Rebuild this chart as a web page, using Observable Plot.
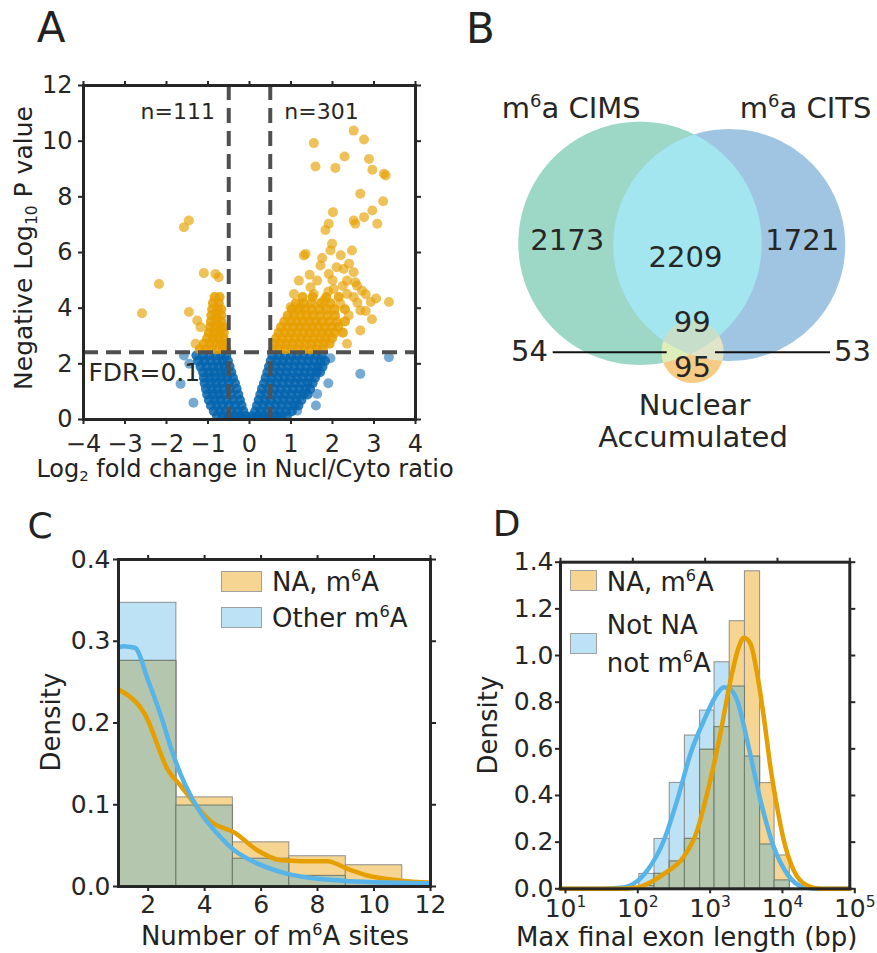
<!DOCTYPE html>
<html>
<head>
<meta charset="utf-8">
<script src="https://cdn.jsdelivr.net/npm/d3@7"></script>
<script src="https://cdn.jsdelivr.net/npm/@observablehq/plot@0.6"></script>
<style>
  html,body{margin:0;padding:0;background:#fff;}
  #fig{position:relative;width:877px;height:953px;overflow:hidden;font-family:"DejaVu Sans","Liberation Sans",Arial,sans-serif;color:#222;background:#fff;}
  #fig svg{position:absolute;overflow:visible;}
  .lbl{position:absolute;white-space:nowrap;line-height:1;z-index:5;}
  .lbl sup{font-size:0.62em;vertical-align:baseline;position:relative;top:-0.62em;}
  .lbl sub{font-size:0.62em;vertical-align:baseline;position:relative;top:0.3em;}
  .patch{position:absolute;box-sizing:border-box;border:1px solid #a0a0a0;z-index:5;}
</style>
</head>
<body>
<div id="fig"></div>
<script>
// ======================= DATA =======================
// ---- Panel A: volcano plot (x = log2 fold change Nucl/Cyto, y = -log10 P) ----
const volcanoXTicks = [-4, -3, -2, -1, 0, 1, 2, 3, 4];
const volcanoYTicks = [0, 2, 4, 6, 8, 10, 12];
const foldChangeCutoffs = [-0.5, 0.5];
const fdrCutoff = 2.42;
const nDown = 111, nUp = 301;
const fdrLabel = "FDR=0.1";

// significant (orange) isolated points [log2FC, -log10P]
const sigPoints = [
  [2.51,10.38],[2.76,10.06],[1.55,9.93],[2.29,9.45],[2.88,9.36],[1.59,9.09],[2.07,9.04],[2.96,8.97],
  [3.24,8.83],[3.28,8.77],[2.67,8.11],[3.22,7.84],[2.96,7.51],[2.01,7.45],[2.76,7.27],[2.51,7.15],
  [2.55,7.03],[3.08,7.03],[1.91,7.03],[1.83,6.81],[1.99,6.31],[1.95,6.07],[2.47,6.07],[1.35,5.95],
  [1.31,5.89],[1.71,5.53],[2.10,5.47],[2.27,5.41],[2.51,5.29],[1.91,5.23],[2.35,4.99],[1.63,4.99],
  [1.19,4.99],[2.55,4.93],[2.59,4.81],[2.71,4.63],[3.36,4.22],[2.92,4.22],[1.47,4.75],[2.03,4.69],
  [2.35,4.51],[2.51,4.40],[2.19,4.16],[1.55,4.51],[1.07,4.51],[0.99,4.04],[1.23,4.04],[1.79,4.28],
  [2.67,3.92],[2.39,3.74],[2.67,3.20],[2.35,2.72],[1.75,5.80],[2.20,5.90],[2.40,5.60],[1.45,5.20],
  [2.00,5.00],[2.80,4.50],[3.05,4.35],[1.90,4.60],[2.25,4.80],[2.60,4.20],[2.80,3.90],[2.95,3.60],
  [-1.46,7.15],[-1.58,6.91],[-2.18,4.87],[-2.59,3.82],[-1.46,3.86],[-1.10,5.26],[-0.82,5.23],
  [-0.74,5.11],[-1.26,3.56],[-1.18,3.32],[-1.30,2.72]
];
// significant (orange) dense clusters: [-log10P, [log2FC ...]]
const sigRows = [
  [2.52,[0.58,0.72,0.87,1.02,1.17,1.32,1.47,1.62,1.77, -1.20,-1.06,-0.92,-0.78,-0.64,-0.56]],
  [2.72,[0.60,0.75,0.90,1.05,1.20,1.35,1.50,1.65,1.80,1.93, -1.10,-0.96,-0.82,-0.68,-0.58]],
  [2.92,[0.64,0.79,0.94,1.09,1.24,1.39,1.54,1.69,1.84,1.99, -1.02,-0.88,-0.75,-0.62]],
  [3.12,[0.70,0.85,1.00,1.15,1.30,1.45,1.60,1.75,1.90,2.05,2.25, -0.98,-0.85,-0.72,-0.62]],
  [3.32,[0.76,0.91,1.06,1.21,1.36,1.51,1.66,1.81,1.98,2.14, -0.95,-0.82,-0.70,-0.62]],
  [3.52,[0.84,0.99,1.14,1.29,1.44,1.59,1.75,1.92,2.10,2.30, -0.93,-0.80,-0.68]],
  [3.74,[0.92,1.07,1.22,1.37,1.53,1.70,1.88,2.06, -0.92,-0.80,-0.68]],
  [3.96,[1.02,1.18,1.34,1.50,1.68,1.86,2.05,2.30, -0.90,-0.78,-0.68]],
  [4.18,[1.12,1.30,1.50,1.72,1.95, -0.88,-0.74]],
  [4.40,[1.28,1.52,1.85,2.15, -0.84,-0.72]]
];
// non-significant (blue) isolated points
const nsPoints = [
  [3.36,2.24],[2.67,1.64],[-1.66,1.28],[1.63,0.92],[1.15,0.32],[-1.58,2.30],[-1.45,2.00],
  [1.95,2.20],[1.90,1.30],[-1.35,0.60],[1.60,0.50]
];
// non-significant (blue) dense V-shaped mass: [-log10P, [log2FC ...]]
const nsRows = [
  [2.30,[-1.28,-1.12,-0.97,-0.82,-0.68,-0.56, 0.55,0.70,0.85,1.00,1.15,1.30,1.45,1.60,1.74]],
  [2.10,[-1.24,-1.09,-0.94,-0.79,-0.65,-0.52, 0.51,0.66,0.81,0.96,1.11,1.26,1.41,1.56,1.71,1.82]],
  [1.90,[-1.18,-1.03,-0.88,-0.74,-0.60,-0.48, 0.47,0.62,0.77,0.92,1.07,1.22,1.37,1.52,1.66,1.76]],
  [1.70,[-1.12,-0.98,-0.84,-0.70,-0.57,-0.44, 0.43,0.58,0.73,0.88,1.03,1.18,1.33,1.48,1.62,1.70]],
  [1.50,[-1.10,-0.96,-0.82,-0.68,-0.54,-0.40, 0.39,0.54,0.69,0.84,0.99,1.14,1.29,1.44,1.58]],
  [1.30,[-1.08,-0.94,-0.80,-0.66,-0.50,-0.35, 0.35,0.50,0.65,0.80,0.95,1.10,1.25,1.40,1.52]],
  [1.10,[-1.05,-0.91,-0.77,-0.63,-0.47,-0.31, 0.30,0.45,0.60,0.75,0.90,1.05,1.20,1.35,1.46]],
  [0.90,[-1.02,-0.88,-0.74,-0.60,-0.44,-0.27, 0.26,0.41,0.56,0.71,0.86,1.01,1.16,1.30,1.40]],
  [0.70,[-0.98,-0.84,-0.70,-0.55,-0.39,-0.23, 0.22,0.37,0.52,0.67,0.82,0.97,1.12,1.25]],
  [0.50,[-0.93,-0.79,-0.65,-0.50,-0.35,-0.19, 0.18,0.33,0.48,0.63,0.78,0.93,1.08,1.18]],
  [0.30,[-0.86,-0.72,-0.58,-0.44,-0.29,-0.15, 0.14,0.28,0.43,0.58,0.73,0.88,1.02]],
  [0.12,[-0.78,-0.64,-0.50,-0.36,-0.22,-0.08,0.06,0.20,0.34,0.48,0.62,0.76,0.90]],
  [0.00,[-0.55,-0.40,-0.26,-0.12,0.00,0.12,0.26,0.40,0.55,0.70]]
];

// ---- Panel B: Venn diagram counts ----
const vennSetNames = ["m^6a CIMS", "m^6a CITS"];
const vennNAName = ["Nuclear", "Accumulated"];
const cimsOnly = 2173, cimsCits = 2209, citsOnly = 1721;
const allThree = 99, cimsNA = 54, citsNA = 53, naOnly = 95;

// ---- Panel C: number of m6A sites ----
const siteBinEdges = [1, 3, 5, 7, 9, 11];
const siteDensityNA = [0.276, 0.109, 0.054, 0.037, 0.026];
const siteDensityOther = [0.347, 0.099, 0.034, 0.013, 0.006];
const siteKdeNAx = [1.0, 1.88, 2.71, 3.18, 3.65, 4.24, 5.06, 5.88, 6.71, 7.41, 8.35, 9.06, 9.76, 10.7, 11.93, 12];
const siteKdeNAy = [0.240, 0.211, 0.142, 0.122, 0.101, 0.079, 0.066, 0.044, 0.032, 0.031, 0.031, 0.0216, 0.0135, 0.0082, 0.005, 0.005];
const siteKdeOtherX = [1.0, 1.12, 1.53, 2.0, 2.47, 2.88, 3.29, 3.88, 4.47, 5.06, 5.88, 6.94, 8.0, 9.18, 10.35, 11.93, 12];
const siteKdeOtherY = [0.293, 0.294, 0.292, 0.252, 0.207, 0.162, 0.126, 0.089, 0.064, 0.044, 0.028, 0.0155, 0.0094, 0.0065, 0.005, 0.004, 0.004];
const siteXTicks = [2, 4, 6, 8, 10, 12];
const siteYTicks = [0, 0.1, 0.2, 0.3, 0.4];

// ---- Panel D: max final exon length (log10 bp) ----
const exonBinLog10 = [2.09, 2.30, 2.51, 2.72, 2.93, 3.13, 3.34, 3.55, 3.76, 3.96, 4.17];
const exonDensityNA  = [0.012, 0.064, 0.117, 0.214, 0.596, 0.693, 1.147, 1.361, 0.453, 0.143];
const exonDensityNot = [0.064, 0.214, 0.454, 0.657, 0.764, 0.971, 0.867, 0.567, 0.190, 0.036];
const exonKdeNAlog = [1, 1.8, 2.06, 2.43, 2.70, 2.89, 2.98, 3.07, 3.21, 3.35, 3.465, 3.534, 3.627, 3.719, 3.811, 3.903, 3.995, 4.088, 4.226, 4.41, 4.6, 5];
const exonKdeNAy   = [0, 0, 0.006, 0.064, 0.136, 0.25, 0.35, 0.464, 0.664, 0.893, 1.036, 1.076, 1.05, 0.921, 0.736, 0.521, 0.35, 0.207, 0.078, 0.014, 0, 0];
const exonKdeNotLog = [1, 1.5, 1.876, 2.0, 2.199, 2.429, 2.613, 2.797, 2.982, 3.166, 3.258, 3.35, 3.443, 3.581, 3.765, 3.949, 4.134, 4.364, 4.6, 5];
const exonKdeNotY   = [0, 0, 0.006, 0.02, 0.078, 0.207, 0.379, 0.579, 0.721, 0.836, 0.864, 0.855, 0.807, 0.636, 0.379, 0.179, 0.064, 0.007, 0, 0];
const exonXTicks = [1e1, 1e2, 1e3, 1e4, 1e5];
const exonYTicks = [0, 0.2, 0.4, 0.6, 0.8, 1.0, 1.2, 1.4];

// ======================= STYLE =======================
const FONT = '"DejaVu Sans","Liberation Sans",Arial,sans-serif';
const INK = "#262626";
const C_ORANGE = "#E69F00", C_SKY = "#56B4E9", C_DOT_BLUE = "#0565AE";
const BAR_ORANGE = "#F6D592", BAR_BLUE = "#BEE2F5", BAR_MIX = "#B4C6AD", BAR_EDGE = "#8e8e8e";

const fig = document.getElementById("fig");
const NS = "http://www.w3.org/2000/svg";

function supNode(node) {
  const s = node.textContent;
  const m = s.match(/^(.*?)\^(\d+)(.*)$/);
  if (!m) return;
  node.textContent = "";
  node.append(document.createTextNode(m[1]));
  const a = document.createElementNS(NS, "tspan");
  a.setAttribute("font-size", "62%");
  a.setAttribute("dy", "-0.6em");
  a.textContent = m[2];
  node.append(a);
  if (m[3]) {
    const b = document.createElementNS(NS, "tspan");
    b.setAttribute("dy", "0.372em");
    b.textContent = m[3];
    node.append(b);
  }
}
function supify(svg) {
  svg.querySelectorAll("text").forEach(t => {
    const ts = t.querySelectorAll("tspan");
    if (ts.length) ts.forEach(supNode); else supNode(t);
  });
}
function place(svg, left, top) {
  svg.style.position = "absolute";
  svg.style.left = left + "px";
  svg.style.top = top + "px";
  fig.append(svg);
}
function label(html, cx, cy, size, opts = {}) {
  const d = document.createElement("div");
  d.className = "lbl";
  d.innerHTML = html;
  d.style.left = cx + "px";
  d.style.top = cy + "px";
  d.style.fontSize = size + "px";
  const tx = opts.left ? "0" : "-50%";
  d.style.transform = `translate(${tx},-50%)` + (opts.rotate ? " rotate(-90deg)" : "");
  fig.append(d);
}
function patch(x, y, w, h, color) {
  const d = document.createElement("div");
  d.className = "patch";
  Object.assign(d.style, {left: x + "px", top: y + "px", width: w + "px", height: h + "px", background: color});
  fig.append(d);
}
function boxAxes(xTicks, yTicks, xFmt, yFmt, xPad, yPad, xOpts = {}) {
  return [
    Plot.frame({stroke: INK, strokeWidth: 3}),
    Plot.axisX({anchor: "bottom", ticks: xTicks, tickSize: 5, tickPadding: xPad, tickFormat: xFmt, label: null, strokeWidth: 2, ...xOpts}),
    Plot.axisX({anchor: "top", ticks: xTicks, tickSize: 5, tickFormat: () => "", label: null, strokeWidth: 2}),
    Plot.axisY({anchor: "left", ticks: yTicks, tickSize: 5, tickPadding: yPad, tickFormat: yFmt, label: null, strokeWidth: 2}),
    Plot.axisY({anchor: "right", ticks: yTicks, tickSize: 5, tickFormat: () => "", label: null, strokeWidth: 2})
  ];
}

// ======================= PANEL A =======================
const rowsToPts = rows => rows.flatMap(([y, xs]) => xs.map(x => ({x, y})));
const sigIso = sigPoints.map(([x, y]) => ({x, y}));
const sigDense = rowsToPts(sigRows);
const nsIso = nsPoints.map(([x, y]) => ({x, y}));
const nsDense = rowsToPts(nsRows);

const plotA = Plot.plot({
  width: 430, height: 400,
  marginLeft: 83, marginRight: 15, marginTop: 25, marginBottom: 41,
  x: {domain: [-4, 4]},
  y: {domain: [0, 12]},
  style: {fontFamily: FONT, fontSize: "24px", color: INK, background: "transparent"},
  marks: [
    Plot.dot(nsDense, {x: "x", y: "y", r: 5, fill: C_DOT_BLUE, fillOpacity: 0.85, clip: true}),
    Plot.dot(nsIso, {x: "x", y: "y", r: 5, fill: C_DOT_BLUE, fillOpacity: 0.55, clip: true}),
    Plot.dot(sigDense, {x: "x", y: "y", r: 5, fill: C_ORANGE, fillOpacity: 0.85, clip: true}),
    Plot.dot(sigIso, {x: "x", y: "y", r: 5, fill: C_ORANGE, fillOpacity: 0.65, clip: true}),
    Plot.ruleX(foldChangeCutoffs, {stroke: "#505050", strokeWidth: 4, strokeDasharray: "15,8"}),
    Plot.ruleY([fdrCutoff], {stroke: "#505050", strokeWidth: 4, strokeDasharray: "15,8"}),
    Plot.text([{x: -1.73, y: 11.04, t: `n=${nDown}`}, {x: 1.735, y: 11.04, t: `n=${nUp}`}],
      {x: "x", y: "y", text: "t", fontSize: 22, fill: INK}),
    Plot.text([{x: -3.88, y: 1.67, t: fdrLabel}], {x: "x", y: "y", text: "t", textAnchor: "start", fontSize: 25, fill: INK}),
    ...boxAxes(volcanoXTicks, volcanoYTicks, undefined, undefined, 10, 6)
  ]
});
place(plotA, 0, 60);

// ======================= PANEL B =======================
// layout geometry of the Venn circles (panel-local pixels)
const vennL = {cx: 200, cy: 183.3, r: 121.7};
const vennR = {cx: 289.2, cy: 185, r: 116};
const vennS = {cx: 252.5, cy: 292, r: 31};
function diskIntersection(disks) {
  const top = d3.max(disks, d => d.cy - d.r), bot = d3.min(disks, d => d.cy + d.r);
  const out = [];
  const n = 300;
  for (let i = 0; i <= n; i++) {
    const y = top + (bot - top) * i / n;
    let a = -Infinity, b = Infinity;
    for (const d of disks) {
      const h = Math.sqrt(Math.max(0, d.r * d.r - (y - d.cy) ** 2));
      a = Math.max(a, d.cx - h); b = Math.min(b, d.cx + h);
    }
    if (b >= a) out.push({y, x1: a, x2: b});
  }
  return out;
}
const vennLayers = [
  [[vennL], "#9DD8C6"], [[vennR], "#9FC5E3"], [[vennL, vennR], "#A4E6EF"],
  [[vennS], "#F7CB84"], [[vennS, vennL], "#DCEEB9"], [[vennS, vennR], "#E0E5C9"],
  [[vennS, vennL, vennR], "#C7DECA"]
];
const vennText = [
  {x: 130.8, y: 48, t: vennSetNames[0]}, {x: 365, y: 48, t: vennSetNames[1]},
  {x: 126.7, y: 180, t: String(cimsOnly)}, {x: 245, y: 197, t: String(cimsCits)}, {x: 361.7, y: 180, t: String(citsOnly)},
  {x: 251.7, y: 262.5, t: String(allThree)}, {x: 252, y: 307.5, t: String(naOnly)},
  {x: 89, y: 291, t: String(cimsNA)}, {x: 412, y: 291, t: String(citsNA)},
  {x: 254, y: 345, t: vennNAName[0]}, {x: 252.5, y: 377.5, t: vennNAName[1]}
];
const plotB = Plot.plot({
  width: 437, height: 400, margin: 0,
  x: {domain: [0, 437], range: [0, 437], axis: null},
  y: {domain: [0, 400], range: [0, 400], axis: null},
  style: {fontFamily: FONT, fontSize: "29px", color: INK, background: "transparent"},
  marks: [
    ...vennLayers.map(([disks, color]) => Plot.areaX(diskIntersection(disks), {y: "y", x1: "x1", x2: "x2", fill: color})),
    Plot.ruleY([{y: 291.7, x1: 112.7, x2: 226.7}, {y: 291.7, x1: 275, x2: 390}], {y: "y", x1: "x1", x2: "x2", stroke: "#111", strokeWidth: 2}),
    Plot.text(vennText, {x: "x", y: "y", text: "t", fontSize: 29, fill: INK})
  ]
});
supify(plotB);
place(plotB, 440, 60);

// ======================= PANEL C =======================
const siteBins = siteBinEdges.map((x0, i) => ({x0, x1: x0 + 2, na: siteDensityNA[i], other: siteDensityOther[i]}));
const siteKdeNA = siteKdeNAx.map((x, i) => ({x, y: siteKdeNAy[i]}));
const siteKdeOther = siteKdeOtherX.map((x, i) => ({x, y: siteKdeOtherY[i]}));
const plotC = Plot.plot({
  width: 440, height: 453,
  marginLeft: 118, marginRight: 10, marginTop: 59, marginBottom: 67,
  x: {domain: [0.95, 12]},
  y: {domain: [0, 0.4]},
  style: {fontFamily: FONT, fontSize: "25px", color: INK, background: "transparent"},
  marks: [
    Plot.rectY(siteBins, {x1: "x0", x2: "x1", y: "other", fill: BAR_BLUE, stroke: BAR_EDGE, strokeWidth: 1, inset: 0}),
    Plot.rectY(siteBins, {x1: "x0", x2: "x1", y: "na", fill: BAR_ORANGE, stroke: BAR_EDGE, strokeWidth: 1, inset: 0}),
    Plot.rectY(siteBins, {x1: "x0", x2: "x1", y: d => Math.min(d.na, d.other), fill: BAR_MIX, stroke: "#6f7a6a", strokeWidth: 1, inset: 0}),
    Plot.line(siteKdeNA, {x: "x", y: "y", stroke: C_ORANGE, strokeWidth: 4.5, curve: "monotone-x", clip: true}),
    Plot.line(siteKdeOther, {x: "x", y: "y", stroke: C_SKY, strokeWidth: 4.5, curve: "monotone-x", clip: true}),
    ...boxAxes(siteXTicks, siteYTicks, undefined, d3.format(".1f"), 4, 3)
  ]
});
place(plotC, 0, 500);

// ======================= PANEL D =======================
const exonBins = exonDensityNA.map((v, i) => ({x0: 10 ** exonBinLog10[i], x1: 10 ** exonBinLog10[i + 1], na: v, not: exonDensityNot[i]}));
const exonKdeNA = exonKdeNAlog.map((l, i) => ({x: 10 ** l, y: exonKdeNAy[i]}));
const exonKdeNot = exonKdeNotLog.map((l, i) => ({x: 10 ** l, y: exonKdeNotY[i]}));
const plotD = Plot.plot({
  width: 437, height: 453,
  marginLeft: 120, marginRight: 27.7, marginTop: 61.7, marginBottom: 64.7,
  x: {type: "log", domain: [1e1, 1e5]},
  y: {domain: [0, 1.4]},
  style: {fontFamily: FONT, fontSize: "25px", color: INK, background: "transparent"},
  marks: [
    Plot.rectY(exonBins, {x1: "x0", x2: "x1", y: "not", fill: BAR_BLUE, stroke: BAR_EDGE, strokeWidth: 1, inset: 0}),
    Plot.rectY(exonBins, {x1: "x0", x2: "x1", y: "na", fill: BAR_ORANGE, stroke: BAR_EDGE, strokeWidth: 1, inset: 0}),
    Plot.rectY(exonBins, {x1: "x0", x2: "x1", y: d => Math.min(d.na, d.not), fill: BAR_MIX, stroke: "#6f7a6a", strokeWidth: 1, inset: 0}),
    Plot.line(exonKdeNot, {x: "x", y: "y", stroke: C_SKY, strokeWidth: 4.5, curve: "monotone-x"}),
    Plot.line(exonKdeNA, {x: "x", y: "y", stroke: C_ORANGE, strokeWidth: 4.5, curve: "monotone-x"}),
    ...boxAxes(exonXTicks, exonYTicks, d => "10^" + Math.round(Math.log10(d)), d3.format(".1f"), 5, 2, {dx: 5})
  ]
});
supify(plotD);
place(plotD, 440, 500);

// ======================= TEXT: panel letters, axis titles, legends =======================
label("A", 51, 28, 42);
label("B", 480.5, 29, 42);
label("C", 40, 526, 36);
label("D", 506.5, 523.5, 36);

label("Negative Log<sub>10</sub> P value", 23, 247.6, 25, {rotate: true});
label("Log<sub>2</sub> fold change in Nucl/Cyto ratio", 245, 469, 24);

label("Density", 51, 721.7, 26, {rotate: true});
label("Number of m<sup>6</sup>A sites", 275, 936, 26);
label("Density", 487.5, 725, 26, {rotate: true});
label("Max final exon length (bp)", 686.7, 937, 26);

// legends
patch(221, 571, 41, 21, BAR_ORANGE);
label("NA, m<sup>6</sup>A", 272, 581.5, 26, {left: true});
patch(221, 607, 41, 21, BAR_BLUE);
label("Other m<sup>6</sup>A", 272, 617.5, 26, {left: true});

patch(570, 570, 27, 21, BAR_ORANGE);
label("NA, m<sup>6</sup>A", 606.7, 581.7, 26, {left: true});
patch(570, 633.3, 27, 21, BAR_BLUE);
label("Not NA", 606.7, 625, 26, {left: true});
label("not m<sup>6</sup>A", 606.7, 663, 26, {left: true});
</script>
</body>
</html>
